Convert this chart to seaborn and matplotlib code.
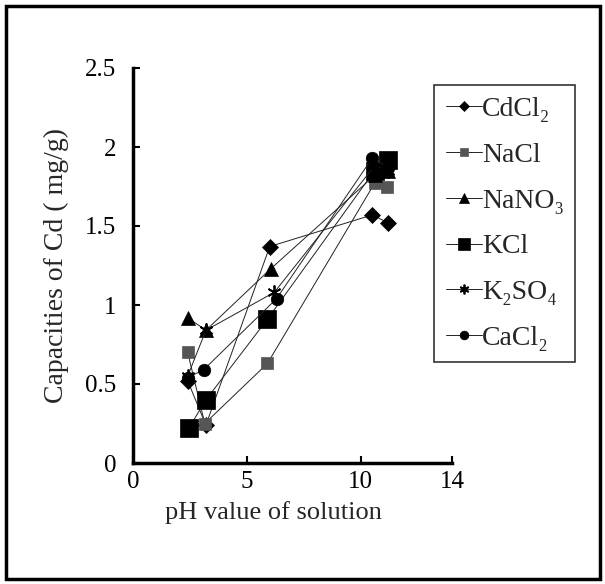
import pandas as pd
import matplotlib
matplotlib.use("Agg")
import matplotlib.pyplot as plt
import seaborn as sns
from matplotlib.patches import Rectangle

# Data
series = ["CdCl₂", "NaCl", "NaNO₃", "KCl", "K₂SO₄", "CaCl₂"]

ph_cdcl2 = [2.4, 3.2, 6.0, 10.5, 11.2]
cap_cdcl2 = [0.52, 0.24, 1.37, 1.57, 1.52]

ph_nacl = [2.4, 3.15, 5.9, 10.6, 11.15]
cap_nacl = [0.70, 0.25, 0.63, 1.77, 1.75]

ph_nano3 = [2.4, 3.2, 6.05, 10.6, 11.2]
cap_nano3 = [0.92, 0.84, 1.23, 1.82, 1.85]

ph_kcl = [2.45, 3.2, 5.9, 10.6, 11.2]
cap_kcl = [0.22, 0.40, 0.91, 1.85, 1.92]

ph_k2so4 = [2.4, 3.2, 6.2, 10.6, 11.2]
cap_k2so4 = [0.55, 0.84, 1.08, 1.88, 1.85]

ph_cacl2 = [2.4, 3.1, 6.3, 10.5, 11.2]
cap_cacl2 = [0.54, 0.59, 1.04, 1.93, 1.87]

frames = []
for name, xs, ys in zip(series,
                        [ph_cdcl2, ph_nacl, ph_nano3, ph_kcl, ph_k2so4, ph_cacl2],
                        [cap_cdcl2, cap_nacl, cap_nano3, cap_kcl, cap_k2so4, cap_cacl2]):
    frames.append(pd.DataFrame({"salt": name, "pH": xs, "cap": ys}))
df = pd.concat(frames, ignore_index=True)

# marker, size, color per series
styles = {
    "CdCl₂": ("D", 8, "black"),
    "NaCl": ("s", 8, "#555555"),
    "NaNO₃": ("^", 10, "black"),
    "KCl": ("s", 13, "black"),
    "K₂SO₄": ((6, 2, 0), 10, "black"),
    "CaCl₂": ("o", 9, "black"),
}

sns.set_theme(style="white")
plt.rcParams["font.family"] = ["Liberation Serif", "DejaVu Serif"]

fig = plt.figure(figsize=(6.05, 5.84), dpi=100)
ax = fig.add_axes([133 / 605, 1 - 463 / 584, (452 - 133) / 605, (463 - 68) / 584])

for name in series:
    mk, ms, col = styles[name]
    sub = df[df["salt"] == name]
    sns.lineplot(data=sub, x="pH", y="cap", ax=ax, sort=False, color="#222222",
                 linewidth=0.7, marker=mk, markersize=ms, markerfacecolor=col,
                 markeredgecolor=col, markeredgewidth=1.3 if name == "K₂SO₄" else 0.5,
                 label=name)

ax.set_xlim(0, 14)
ax.set_ylim(0, 2.5)
ax.set_xticks([0, 5, 10, 14])
ax.set_yticks([0, 0.5, 1, 1.5, 2, 2.5])
ax.set_yticklabels(["0", "0.5", "1", "1.5", "2", "2.5"])
ax.tick_params(direction="in", length=5, width=1.5, labelsize=18, colors="black",
               bottom=True, left=True, pad=6)
ax.tick_params(axis="y", pad=12)
for s in ["top", "right"]:
    ax.spines[s].set_visible(False)
for s in ["left", "bottom"]:
    ax.spines[s].set_linewidth(2.5)
    ax.spines[s].set_color("black")

ax.set_xlabel("pH value of solution", fontsize=19)
ax.set_ylabel("Capacities of Cd ( mg/g)", fontsize=20)
ax.xaxis.set_label_coords(0.44, -0.095)
ax.yaxis.set_label_coords(-0.2, 0.5)

leg = ax.legend(loc="upper left", bbox_to_anchor=(434 / 605, 1 - 85 / 584),
                bbox_transform=fig.transFigure, borderaxespad=0, frameon=True,
                fancybox=False, edgecolor="black", fontsize=20, labelspacing=0.73,
                handlelength=1.3, handletextpad=0.0, borderpad=0.42, markerscale=0.7)
leg.get_frame().set_linewidth(1.2)

# outer chart border
fig.patches.append(Rectangle((6 / 605, 5 / 584), 594 / 605, 573 / 584,
                             transform=fig.transFigure, fill=False,
                             edgecolor="black", linewidth=2.5))

fig.savefig("out.png", dpi=100)
